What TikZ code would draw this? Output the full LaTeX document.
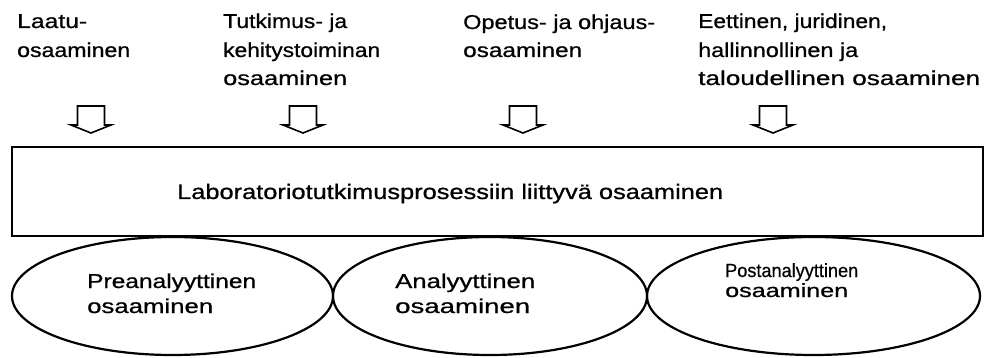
\documentclass[tikz,border=0pt]{standalone}
\usepackage{fontspec}
\setmainfont{Liberation Sans}[BoldFont={Liberation Sans}, BoldFeatures={FakeBold=0.7}]
\usetikzlibrary{shapes.geometric}
% set a line of text to a given width (in pt), keeping its height
\newcommand{\linewd}[2]{\resizebox{#1pt}{\height}{#2}}
\begin{document}
\begin{tikzpicture}[x=1pt,y=-1pt,
  lbl/.style={anchor=base west, inner sep=0pt, font=\fontsize{20}{24}\selectfont\bfseries},
  smalllbl/.style={lbl, font=\fontsize{19}{23}\selectfont\bfseries},
  mainlbl/.style={anchor=base west, inner sep=0pt, font=\fontsize{21}{25}\selectfont\bfseries},
  bar/.style={draw, line width=2.6pt, minimum width=971pt, minimum height=89pt, inner sep=0pt},
  area/.style={draw, ellipse, line width=2.2pt, inner sep=0pt},
  blockarrow/.pic={
    \draw[line width=1.6pt, line join=miter]
      (-13.5,0) -- (13.5,0) -- (13.5,19) -- (20,19) -- (0,27)
      -- (-20,19) -- (-13.5,19) -- cycle;
  }]
\useasboundingbox[fill=white] (0,0) rectangle (987,358);

% competence areas above the process
\node[lbl] (qa1) at (17,28) {\linewd{70}{Laatu-}};
\node[lbl] (qa2) at (17,57) {\linewd{113}{osaaminen}};

\node[lbl] (rd1) at (223,28) {\linewd{124}{Tutkimus- ja}};
\node[lbl] (rd2) at (223,57) {\linewd{157}{kehitystoiminan}};
\node[lbl] (rd3) at (223,85) {\linewd{124}{osaaminen}};

\node[lbl] (tg1) at (463,29) {\linewd{192}{Opetus- ja ohjaus-}};
\node[lbl] (tg2) at (463,57) {\linewd{119}{osaaminen}};

\node[lbl] (el1) at (698,28) {\linewd{189}{Eettinen, juridinen,}};
\node[lbl] (el2) at (698,57) {\linewd{160}{hallinnollinen ja}};
\node[lbl] (el3) at (698,85) {\linewd{282}{taloudellinen osaaminen}};

% downward block arrows
\pic at (91,106) {blockarrow};
\pic at (303,106) {blockarrow};
\pic at (523,106) {blockarrow};
\pic at (773,106) {blockarrow};

% the laboratory process
\node[bar] (proc) at (497.5,191.5) {};
\node[mainlbl] (proctxt) at (177,199)
  {\linewd{546}{Laboratoriotutkimusprosessiin liittyvä osaaminen}};

% phases of the process
\node[area, minimum width=321pt, minimum height=118pt] (pre) at (172.5,296) {};
\node[area, minimum width=314pt, minimum height=118pt] (ana) at (490,296) {};
\node[area, minimum width=333pt, minimum height=118pt] (post) at (813.5,296) {};

\node[lbl] (pre1) at (87,288) {\linewd{169}{Preanalyyttinen}};
\node[lbl] (pre2) at (87,313) {\linewd{126}{osaaminen}};
\node[lbl] (ana1) at (395,288) {\linewd{140}{Analyyttinen}};
\node[lbl] (ana2) at (395,313) {\linewd{135}{osaaminen}};
\node[smalllbl] (post1) at (725,277) {\linewd{133}{Postanalyyttinen}};
\node[smalllbl] (post2) at (725,297) {\linewd{123}{osaaminen}};
\end{tikzpicture}
\end{document}
